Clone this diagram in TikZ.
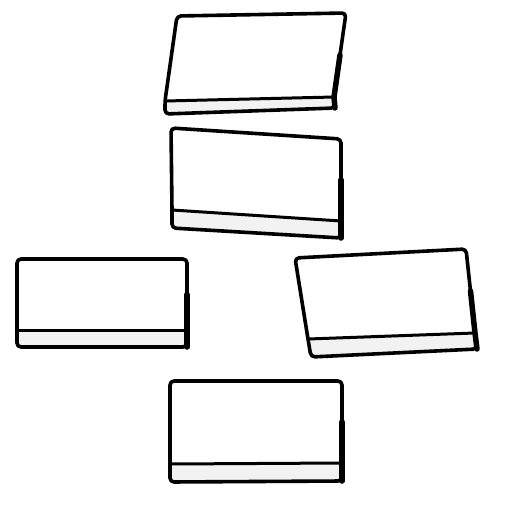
\documentclass[tikz,border=0pt]{standalone}
\usetikzlibrary{calc}
\tikzset{
  outline/.style = {draw=black,line width=3.6pt,line join=round,rounded corners=4pt},
  frontedge/.style = {draw=black,line width=3pt},
  heavy/.style = {draw=black,line width=5.5pt,line cap=round},
  side/.style = {fill=gray!10}
}
% slab: top left, top right, front bottom right, front bottom left, base right, base left
\def\slab(#1)(#2)(#3)(#4)(#5)(#6);%
{
  \fill[side] (#4) -- (#3) -- (#5) -- (#6) -- cycle;
  \draw[outline] (#1) -- (#2) -- (#3) -- (#5) -- (#6) -- (#4) -- cycle;
  \draw[frontedge] (#4) -- (#3);
  \draw[heavy] ($(#2)!0.5!(#3)$) -- (#3) -- (#5);
}

\begin{document}
\begin{tikzpicture}[x=1pt,y=-1pt]
  \useasboundingbox (0,0) rectangle (512,512);
  % top slab
  \slab(177,16)(346,13)(334,97)(165,101)(335,108)(165,114);
  % second slab
  \slab(171,128)(341,139)(341,221)(172,210)(341,238)(172,228);
  % left slab
  \slab(17,259)(187,259)(187,330)(17,330)(187,347)(17,347);
  % right slab
  \slab(295,258)(466,249)(475,333)(308,339)(477,349)(311,357);
  % bottom slab
  \slab(170,381)(342,381)(342,463)(170,464)(342,481)(170,482);
\end{tikzpicture}
\end{document}
